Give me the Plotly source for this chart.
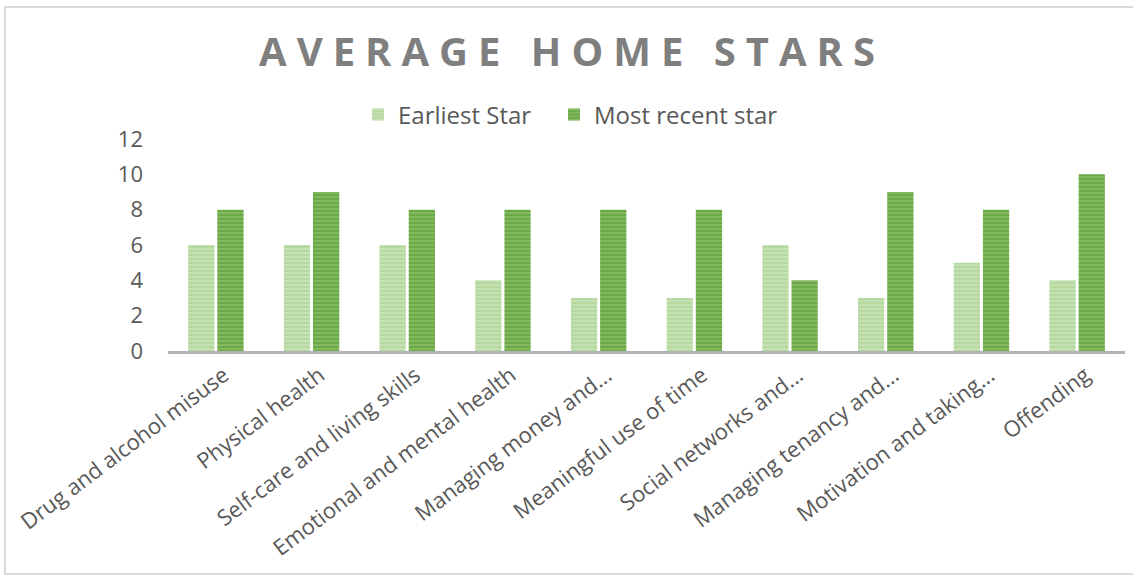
import plotly.graph_objects as go

categories = [
    "Drug and alcohol misuse", "Physical health", "Self-care and living skills",
    "Emotional and mental health", "Managing money and...", "Meaningful use of time",
    "Social networks and...", "Managing tenancy and...", "Motivation and taking...",
    "Offending",
]
earliest = [6, 6, 6, 4, 3, 3, 6, 3, 5, 4]
most_recent = [8, 9, 8, 8, 8, 8, 4, 9, 8, 10]
y_ticks = [0, 2, 4, 6, 8, 10, 12]

W, H = 1133, 576
ML, MR, MT, MB = 168, 8, 139, 225
PW, PH = W - ML - MR, H - MT - MB

FONT = "Open Sans"
TXT = "#595959"

fig = go.Figure()
fig.add_bar(
    x=categories, y=earliest, name="Earliest Star", legend="legend",
    marker=dict(color="#b5d99f", line=dict(width=0),
                pattern=dict(shape="-", fgcolor="#dcedd2", size=4, solidity=0.4, fillmode="overlay")),
)
fig.add_bar(
    x=categories, y=most_recent, name="Most recent star", legend="legend2",
    marker=dict(color="#6aa945", line=dict(width=0),
                pattern=dict(shape="-", fgcolor="#a4d08a", size=4, solidity=0.4, fillmode="overlay")),
)

# frame around the chart area
def px_to_paper_x(px):
    return (px - ML) / PW

def px_to_paper_y(py):
    return (H - MB - py) / PH

fig.add_shape(type="rect", xref="paper", yref="paper",
              x0=px_to_paper_x(5), x1=px_to_paper_x(1140),
              y0=px_to_paper_y(574), y1=px_to_paper_y(7),
              line=dict(color="#d9d9d9", width=2), fillcolor="rgba(0,0,0,0)", layer="below")

leg_common = dict(orientation="h", xanchor="left", xref="container", y=1 - 115 / H, yref="container",
                  yanchor="middle", font=dict(family=FONT, size=24, color=TXT), bgcolor="rgba(0,0,0,0)")

fig.update_layout(
    width=W, height=H,
    margin=dict(l=ML, r=MR, t=MT, b=MB, autoexpand=False),
    paper_bgcolor="white", plot_bgcolor="white",
    barmode="group", bargap=0.39, bargroupgap=0.1,
    title=dict(text="AVERAGE HOME STARS", x=(572) / W, xanchor="center", y=1 - 52 / H, yanchor="middle",
               font=dict(family=FONT, size=40, color="#7f7f7f", weight=700)),
    legend=dict(x=(372 - 14) / W, **leg_common),
    legend2=dict(x=(568 - 14) / W, **leg_common),
    font=dict(family=FONT, color=TXT),
    showlegend=True,
)
fig.update_xaxes(
    showline=True, linecolor="#b3b3b3", linewidth=3, showgrid=False, ticks="",
    tickangle=-37, tickfont=dict(family=FONT, size=22, color=TXT), automargin=False,
    ticklabelshift=8,
)
fig.update_yaxes(
    range=[0, 12], tickvals=y_ticks, showgrid=False, showline=False, zeroline=False,
    tickfont=dict(family=FONT, size=22, color=TXT), ticklabelstandoff=24, automargin=False,
)

post = ("document.body.style.margin='0';"
        "document.querySelectorAll('.gtitle').forEach(function(e){e.style.letterSpacing='10px';});")
fig.write_html("out.html", post_script=post, config={"displayModeBar": False})
